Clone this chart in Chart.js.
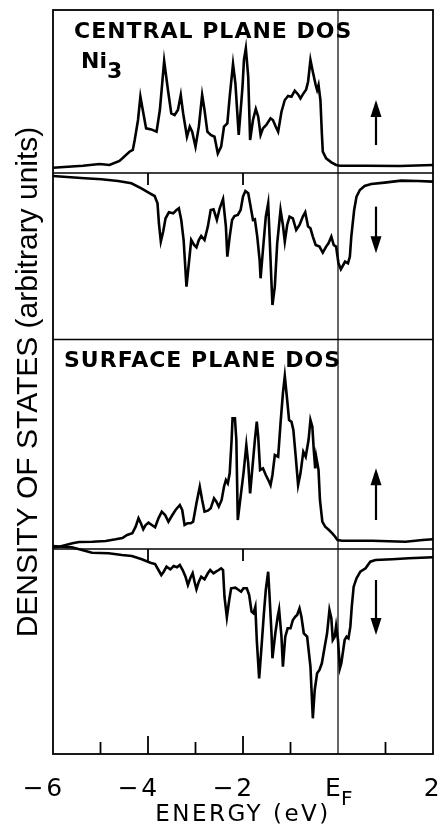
<!DOCTYPE html>
<html>
<head>
<meta charset="utf-8">
<script src="https://cdn.jsdelivr.net/npm/chart.js@4"></script>
<style>
  html, body { margin: 0; padding: 0; background: #fff; }
  canvas { display: block; }
</style>
</head>
<body>
<canvas id="dosChart" width="440" height="836"></canvas>
<script>
// Ni3 layer DOS (energy in eV relative to E_F, DOS in arbitrary units)
const centralUpEnergy = [-6.0, -5.37, -5.02, -4.81, -4.60, -4.39, -4.32, -4.28, -4.21, -4.16,
  -4.11, -4.04, -3.93, -3.82, -3.75, -3.66, -3.58, -3.51, -3.44, -3.37,
  -3.31, -3.26, -3.18, -3.12, -3.07, -3.00, -2.93, -2.86, -2.81, -2.75,
  -2.68, -2.60, -2.53, -2.46, -2.40, -2.33, -2.28, -2.21, -2.16, -2.09,
  -2.01, -1.98, -1.94, -1.89, -1.85, -1.79, -1.73, -1.68, -1.63, -1.58,
  -1.51, -1.42, -1.37, -1.31, -1.26, -1.19, -1.12, -1.05, -0.98, -0.91,
  -0.84, -0.79, -0.74, -0.67, -0.63, -0.58, -0.53, -0.47, -0.44, -0.41,
  -0.37, -0.34, -0.32, -0.25, -0.14, -0.04, 0.04, 0.6, 1.3, 2.0];
const centralUpDos = [-0.1, 0.1, 0.27, 0.17, 0.57, 1.5, 1.67, 2.67, 4.67, 7.0,
  5.67, 3.83, 3.73, 3.5, 5.67, 10.57, 7.67, 5.33, 5.17, 5.67,
  7.17, 5.33, 3.0, 4.0, 3.5, 2.0, 4.0, 7.17, 5.67, 3.5,
  3.17, 3.0, 1.33, 2.0, 4.0, 4.33, 7.0, 10.27, 8.33, 3.17,
  8.0, 10.67, 11.83, 9.0, 2.67, 4.67, 5.77, 5.0, 3.17, 3.83,
  4.17, 4.83, 4.67, 4.0, 3.5, 5.5, 6.67, 7.07, 7.0, 7.6,
  7.23, 6.83, 7.23, 7.73, 8.5, 10.67, 9.5, 8.17, 7.67, 8.17,
  6.67, 3.33, 1.5, 0.83, 0.43, 0.17, 0.1, 0.1, 0.07, 0.17];

const centralDownEnergy = [-6.0, -5.33, -4.98, -4.63, -4.35, -4.14, -3.96, -3.86, -3.80, -3.77,
  -3.73, -3.68, -3.63, -3.56, -3.47, -3.40, -3.35, -3.30, -3.25, -3.19,
  -3.14, -3.09, -3.03, -2.98, -2.93, -2.88, -2.81, -2.74, -2.68, -2.62,
  -2.55, -2.49, -2.42, -2.36, -2.33, -2.28, -2.23, -2.18, -2.11, -2.05,
  -2.00, -1.95, -1.89, -1.84, -1.79, -1.75, -1.70, -1.65, -1.63, -1.58,
  -1.52, -1.47, -1.44, -1.40, -1.38, -1.33, -1.28, -1.21, -1.16, -1.12,
  -1.07, -1.02, -0.95, -0.88, -0.81, -0.74, -0.69, -0.63, -0.58, -0.53,
  -0.47, -0.39, -0.32, -0.25, -0.20, -0.14, -0.09, -0.04, 0.01, 0.06,
  0.11, 0.15, 0.21, 0.25, 0.28, 0.34, 0.39, 0.46, 0.56, 0.70,
  0.98, 1.33, 1.68, 2.0];
const centralDownDos = [0.23, 0, -0.1, -0.27, -0.5, -1.0, -1.5, -1.77, -2.5, -4.5,
  -6.33, -5.33, -4.0, -3.4, -3.5, -3.17, -3.0, -4.17, -6.17, -10.83,
  -8.5, -6.17, -6.67, -6.9, -6.17, -5.77, -6.17, -4.83, -3.17, -3.1,
  -4.17, -3.0, -2.07, -4.83, -7.83, -5.83, -4.17, -3.77, -3.67, -3.17,
  -1.83, -1.27, -1.5, -2.83, -4.17, -4.1, -5.83, -8.17, -10.0, -7.17,
  -3.83, -2.5, -5.83, -10.5, -12.67, -10.83, -6.5, -3.17, -4.67, -6.33,
  -4.67, -3.83, -4.0, -5.17, -4.67, -3.83, -3.4, -4.83, -5.0, -5.83,
  -6.67, -6.83, -7.43, -6.83, -6.5, -5.83, -6.67, -6.83, -8.5, -9.1,
  -8.67, -8.33, -8.5, -7.83, -5.83, -3.17, -1.83, -1.17, -0.77, -0.57,
  -0.43, -0.23, -0.27, -0.33];

const surfaceUpEnergy = [-6.0, -5.87, -5.73, -5.59, -5.45, -5.17, -4.89, -4.68, -4.54, -4.44,
  -4.33, -4.26, -4.20, -4.15, -4.10, -4.05, -3.99, -3.92, -3.85, -3.78,
  -3.71, -3.64, -3.57, -3.50, -3.42, -3.33, -3.28, -3.23, -3.17, -3.10,
  -3.05, -2.98, -2.91, -2.86, -2.81, -2.74, -2.68, -2.61, -2.56, -2.51,
  -2.45, -2.40, -2.36, -2.32, -2.28, -2.24, -2.22, -2.17, -2.14, -2.11,
  -2.05, -1.99, -1.93, -1.89, -1.85, -1.80, -1.75, -1.71, -1.68, -1.64,
  -1.58, -1.52, -1.45, -1.42, -1.38, -1.33, -1.26, -1.21, -1.16, -1.12,
  -1.07, -1.03, -0.98, -0.94, -0.89, -0.84, -0.79, -0.73, -0.68, -0.62,
  -0.58, -0.54, -0.51, -0.48, -0.46, -0.41, -0.38, -0.33, -0.27, -0.19,
  -0.12, -0.06, -0.01, 0.09, 0.72, 1.42, 1.78, 2.0];
const surfaceUpDos = [-0.73, -0.67, -0.5, -0.33, -0.2, -0.17, -0.1, 0.07, 0.2, 0.5,
  0.67, 1.33, 2.17, 1.67, 1.07, 1.5, 1.73, 1.5, 1.27, 2.17,
  2.83, 2.5, 1.83, 2.4, 3.0, 3.5, 3.0, 1.5, 1.67, 1.67,
  1.83, 3.67, 5.33, 4.0, 2.83, 2.93, 3.17, 4.17, 3.83, 3.33,
  4.0, 5.33, 6.0, 5.67, 6.67, 10.0, 12.17, 12.17, 10.0, 2.0,
  4.33, 6.67, 9.5, 7.67, 4.67, 7.33, 10.0, 11.83, 10.33, 7.0,
  7.17, 6.5, 5.83, 5.5, 6.5, 8.5, 8.33, 11.67, 14.67, 16.4,
  14.0, 12.0, 11.83, 11.0, 8.33, 5.5, 6.67, 8.83, 8.33, 10.0,
  12.0, 11.33, 9.0, 7.17, 8.33, 7.0, 4.0, 1.83, 1.33, 1.0,
  0.67, 0.33, 0.0, -0.07, -0.07, -0.17, 0.0, 0.07];

const surfaceDownEnergy = [-6.0, -5.81, -5.60, -5.39, -5.18, -4.83, -4.55, -4.34, -4.13, -3.95,
  -3.85, -3.78, -3.72, -3.67, -3.61, -3.53, -3.46, -3.39, -3.33, -3.27,
  -3.21, -3.16, -3.11, -3.06, -3.02, -2.98, -2.93, -2.88, -2.81, -2.74,
  -2.69, -2.62, -2.57, -2.51, -2.46, -2.42, -2.39, -2.34, -2.29, -2.25,
  -2.16, -2.09, -2.04, -1.99, -1.92, -1.87, -1.82, -1.78, -1.74, -1.71,
  -1.66, -1.61, -1.56, -1.52, -1.47, -1.44, -1.40, -1.38, -1.32, -1.27,
  -1.24, -1.19, -1.16, -1.11, -1.06, -1.00, -0.95, -0.90, -0.86, -0.81,
  -0.77, -0.72, -0.65, -0.58, -0.53, -0.49, -0.44, -0.39, -0.34, -0.28,
  -0.23, -0.18, -0.14, -0.11, -0.07, -0.04, 0.00, 0.04, 0.07, 0.11,
  0.14, 0.18, 0.22, 0.26, 0.29, 0.33, 0.39, 0.47, 0.58, 0.68,
  0.79, 1.14, 1.49, 2.0];
const surfaceDownDos = [0.4, 0.33, 0.27, 0, -0.27, -0.33, -0.5, -0.6, -0.93, -1.27,
  -1.4, -2.0, -2.5, -2.17, -1.67, -1.93, -1.6, -1.73, -1.5, -2.0,
  -2.67, -3.5, -2.83, -2.33, -3.17, -3.93, -3.17, -2.67, -2.93, -2.33,
  -2.0, -2.33, -2.17, -2.0, -1.83, -2.0, -4.67, -6.73, -5.0, -3.83,
  -3.77, -4.0, -4.17, -3.83, -3.83, -4.5, -6.17, -6.33, -5.67, -9.0,
  -12.83, -9.67, -6.33, -4.0, -2.17, -4.67, -8.33, -10.83, -8.33, -6.67,
  -5.93, -8.67, -11.67, -8.67, -7.83, -7.83, -7.0, -6.67, -6.5, -5.83,
  -6.67, -8.33, -8.67, -11.67, -16.83, -14.0, -12.33, -12.0, -11.33, -9.67,
  -8.33, -6.0, -6.83, -9.0, -8.67, -7.6, -9.0, -11.83, -11.33, -10.0,
  -9.0, -8.67, -8.83, -7.67, -5.67, -3.67, -2.83, -2.17, -1.83, -1.17,
  -1.0, -0.93, -0.83, -0.73];

const tickValues = [-6, -4, -2, 0, 2];
const tickLabels = ['\u22126', '\u22124', '\u22122', 'E', '2'];

function series(energy, dos, axisId) {
    return {
        data: energy.map((e, i) => ({ x: e, y: dos[i] })),
        yAxisID: axisId,
        borderColor: '#000',
        borderWidth: 2.6,
        pointRadius: 0,
        tension: 0,
        fill: false,
        clip: false
    };
}

// one panel per stacked y axis; weight keeps them in top-to-bottom order
function panelAxis(min, max, height, order) {
    return { type: 'linear', position: 'left', stack: 'dos', stackWeight: height, weight: order, min: min, max: max, display: false };
}

function drawArrow(ctx, x, yTail, yTip) {
    const dir = yTip < yTail ? 1 : -1;
    ctx.lineWidth = 2.2;
    ctx.beginPath();
    ctx.moveTo(x, yTail);
    ctx.lineTo(x, yTip + dir * 12);
    ctx.stroke();
    ctx.beginPath();
    ctx.moveTo(x, yTip);
    ctx.lineTo(x - 5.5, yTip + dir * 17);
    ctx.lineTo(x + 5.5, yTip + dir * 17);
    ctx.closePath();
    ctx.fill();
}

const framePlugin = {
    id: 'frame',
    beforeDraw(chart) {
        // wide lettering for the axis text
        chart.ctx.letterSpacing = '2.5px';
    },
    afterDraw(chart) {
        const { ctx, chartArea: a, scales } = chart;
        const xs = scales.x;
        ctx.save();
        ctx.letterSpacing = '0px';
        ctx.strokeStyle = '#000';
        ctx.fillStyle = '#000';

        // outer frame
        ctx.lineWidth = 1.8;
        ctx.strokeRect(a.left, a.top, a.right - a.left, a.bottom - a.top);

        // panel separators
        ctx.lineWidth = 1.3;
        [scales.yB.top, scales.yC.top, scales.yD.top].forEach(y => {
            ctx.beginPath();
            ctx.moveTo(a.left, y);
            ctx.lineTo(a.right, y);
            ctx.stroke();
        });

        // Fermi level
        const xf = xs.getPixelForValue(0);
        ctx.lineWidth = 1.2;
        ctx.beginPath();
        ctx.moveTo(xf, a.top);
        ctx.lineTo(xf, a.bottom);
        ctx.stroke();

        // inward ticks on the energy axis
        ctx.lineWidth = 1.8;
        xs.ticks.forEach(t => {
            if (t.value <= -6 || t.value >= 2 || t.value === 0) return;
            const px = xs.getPixelForValue(t.value);
            const len = t.value % 2 === 0 ? 18 : 12;
            ctx.beginPath();
            ctx.moveTo(px, a.bottom);
            ctx.lineTo(px, a.bottom - len);
            ctx.stroke();
        });
        [scales.yB.top, scales.yD.top].forEach(y => {
            [-4, -2].forEach(v => {
                const px = xs.getPixelForValue(v);
                ctx.beginPath();
                ctx.moveTo(px, y);
                ctx.lineTo(px, y + 12);
                ctx.stroke();
            });
        });

        // spin arrows
        const ax = xs.getPixelForValue(0.8);
        drawArrow(ctx, ax, scales.yA.getPixelForValue(2.17), scales.yA.getPixelForValue(6.67));
        drawArrow(ctx, ax, scales.yB.getPixelForValue(-2.83), scales.yB.getPixelForValue(-7.5));
        drawArrow(ctx, ax, scales.yC.getPixelForValue(2.0), scales.yC.getPixelForValue(7.17));
        drawArrow(ctx, ax, scales.yD.getPixelForValue(-3.0), scales.yD.getPixelForValue(-8.5));

        // panel labels
        ctx.textAlign = 'left';
        ctx.textBaseline = 'alphabetic';
        ctx.font = 'bold 22px "DejaVu Sans"';
        ctx.letterSpacing = '1px';
        ctx.fillText('CENTRAL PLANE DOS', a.left + 21, scales.yA.top + 28);
        ctx.fillText('SURFACE PLANE DOS', a.left + 11, scales.yC.top + 27.5);
        ctx.letterSpacing = '0px';
        ctx.fillText('Ni', a.left + 28, scales.yA.top + 58);
        const niW = ctx.measureText('Ni').width;
        ctx.fillText('3', a.left + 28 + niW, scales.yA.top + 68);

        // subscript F of E_F
        ctx.font = '20px "DejaVu Sans"';
        ctx.fillText('F', xf + 3, a.bottom + 51);

        // y axis title
        ctx.font = '30px "Liberation Sans", Arial, sans-serif';
        ctx.textAlign = 'center';
        ctx.translate(37, (a.top + a.bottom) / 2);
        ctx.rotate(-Math.PI / 2);
        ctx.fillText('DENSITY OF STATES (arbitrary units)', 0, 0);
        ctx.restore();
    }
};

new Chart(document.getElementById('dosChart'), {
    type: 'line',
    data: {
        datasets: [
            series(centralUpEnergy, centralUpDos, 'yA'),
            series(centralDownEnergy, centralDownDos, 'yB'),
            series(surfaceUpEnergy, surfaceUpDos, 'yC'),
            series(surfaceDownEnergy, surfaceDownDos, 'yD')
        ]
    },
    options: {
        responsive: false,
        animation: false,
        events: [],
        layout: { padding: { left: 53, right: 7, top: 10, bottom: 0 } },
        plugins: { legend: { display: false }, tooltip: { enabled: false } },
        scales: {
            x: {
                type: 'linear',
                min: -6,
                max: 2,
                grid: { display: false },
                border: { display: false },
                ticks: {
                    stepSize: 1,
                    autoSkip: false,
                    maxRotation: 0,
                    padding: 12,
                    color: '#000',
                    font: { family: 'DejaVu Sans', size: 25 },
                    callback: (v) => {
                        const i = tickValues.indexOf(v);
                        if (i < 0) return '';
                        if (v < 0) return tickLabels[i] + '\u2007';
                        if (v === 0) return tickLabels[i] + '\u2009';
                        return tickLabels[i];
                    }
                },
                title: {
                    display: true,
                    text: 'ENERGY (eV)',
                    color: '#000',
                    font: { family: 'DejaVu Sans', size: 23 },
                    padding: { top: 0, bottom: 7 }
                },
                afterFit(scale) {
                    scale.height = 82;
                    scale.paddingLeft = 0;
                    scale.paddingRight = 0;
                }
            },
            yD: panelAxis(-20.4, 0.1, 205, 1),
            yC: panelAxis(-0.9, 20.05, 209.5, 2),
            yB: panelAxis(-16.12, 0.53, 166.5, 3),
            yA: panelAxis(-0.63, 15.67, 163, 4)
        }
    },
    plugins: [framePlugin]
});
</script>
</body>
</html>
